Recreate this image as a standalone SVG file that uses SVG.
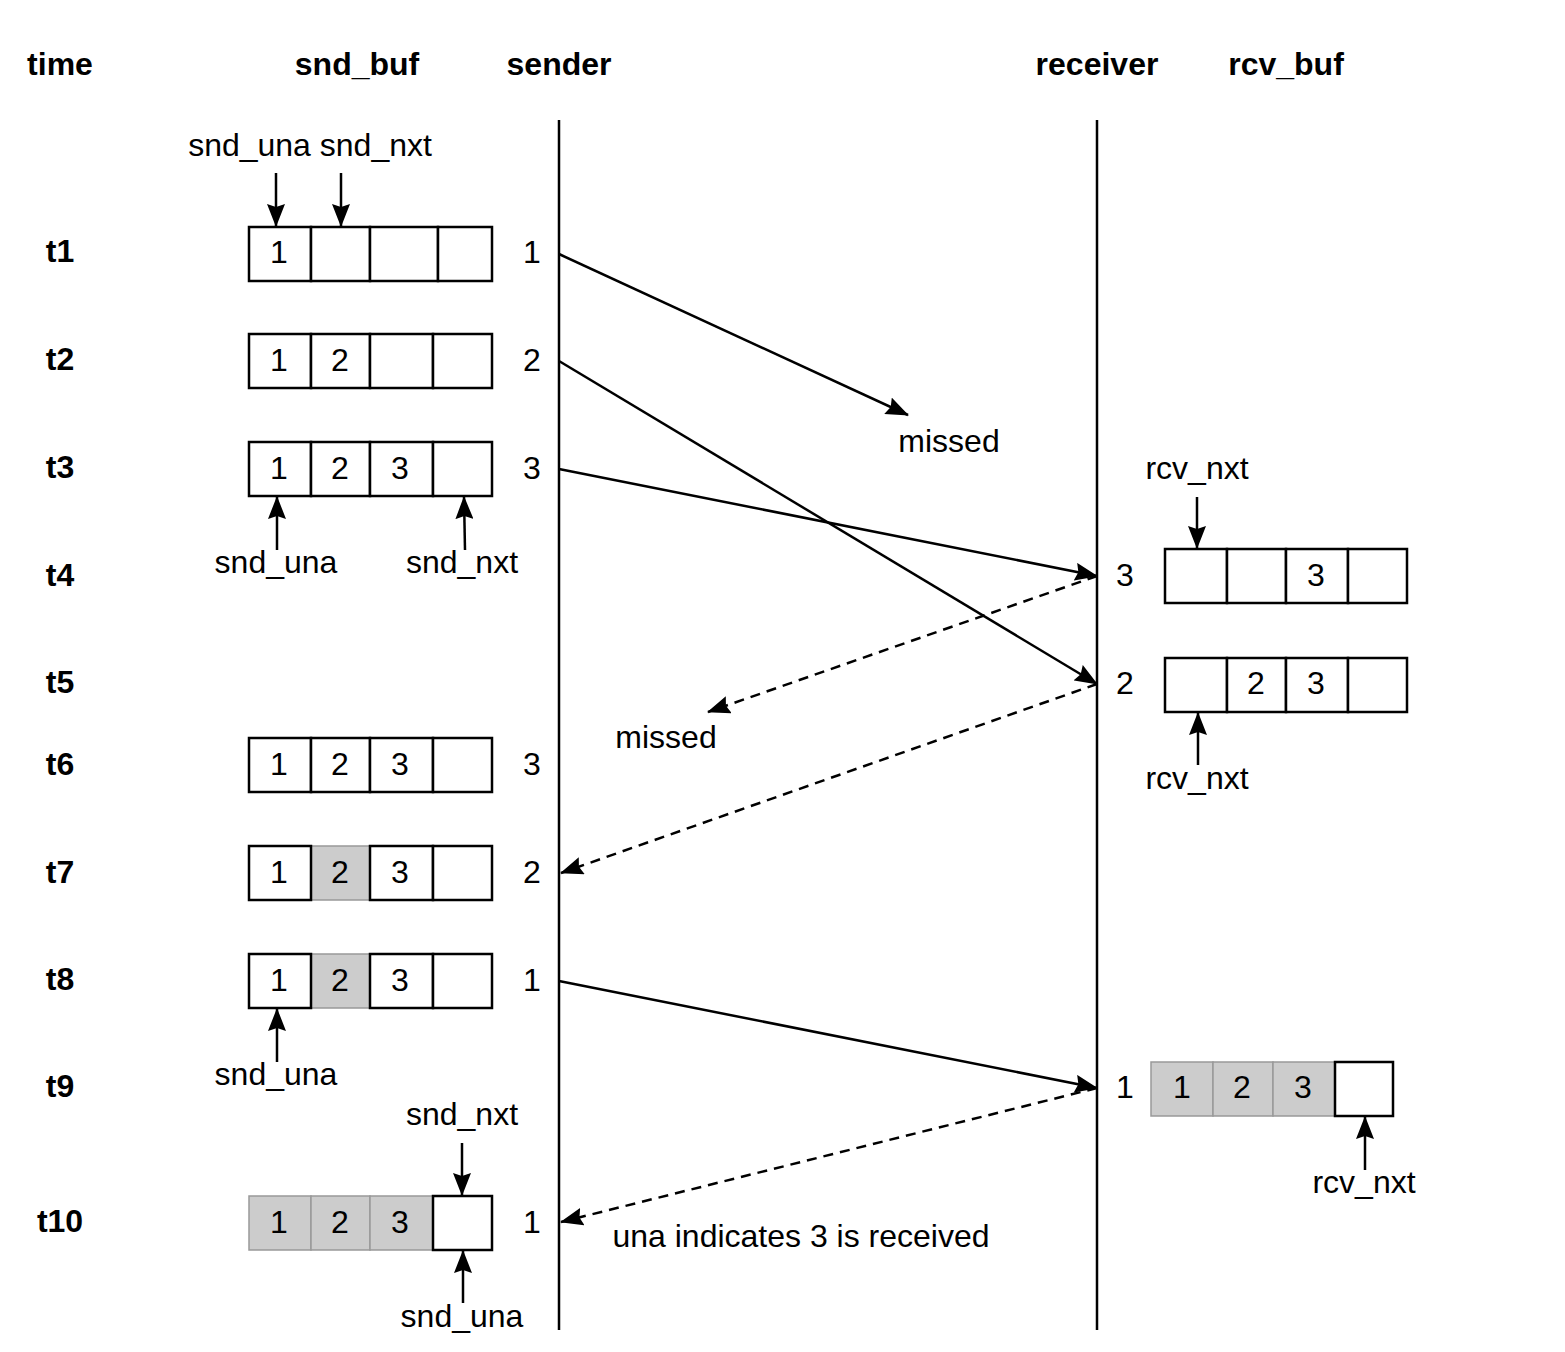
<svg xmlns="http://www.w3.org/2000/svg" width="1565" height="1352" viewBox="0 0 1565 1352">
<style>
text{font-family:"Liberation Sans",Arial,sans-serif;font-size:32px;fill:#000;text-anchor:middle}
.b{font-weight:bold}
.c{fill:#fff;stroke:#000;stroke-width:2.5}
.g{fill:#ccc;stroke:#999;stroke-width:1.5}
.ln{stroke:#000;stroke-width:2.5;fill:none}
.ds{stroke:#000;stroke-width:2.5;fill:none;stroke-dasharray:10 7}
</style>
<defs>
<marker id="ah" viewBox="0 0 23 18" markerUnits="userSpaceOnUse" markerWidth="23" markerHeight="18" refX="22" refY="9" orient="auto">
<path d="M0,0 L23,9 L0,18 L3,9 Z" fill="#000"/>
</marker>
</defs>
<rect width="1565" height="1352" fill="#fff"/>
<g id="headers">
<text class="b" x="60" y="75">time</text>
<text class="b" x="357" y="75">snd_buf</text>
<text class="b" x="559" y="75">sender</text>
<text class="b" x="1097" y="75">receiver</text>
<text class="b" x="1286" y="75">rcv_buf</text>
</g>
<g id="times">
<text class="b" x="60" y="262">t1</text>
<text class="b" x="60" y="370">t2</text>
<text class="b" x="60" y="478">t3</text>
<text class="b" x="60" y="586">t4</text>
<text class="b" x="60" y="693">t5</text>
<text class="b" x="60" y="775">t6</text>
<text class="b" x="60" y="883">t7</text>
<text class="b" x="60" y="990">t8</text>
<text class="b" x="60" y="1097">t9</text>
<text class="b" x="60" y="1232">t10</text>
</g>
<g id="lifelines">
<line class="ln" x1="559" y1="120" x2="559" y2="1330"/>
<line class="ln" x1="1097" y1="120" x2="1097" y2="1330"/>
</g>
<g id="snd_t1">
<rect class="c" x="249" y="227" width="62" height="54"/><rect class="c" x="311" y="227" width="59" height="54"/><rect class="c" x="370" y="227" width="68" height="54"/><rect class="c" x="438" y="227" width="54" height="54"/>
<text x="279" y="263">1</text><text x="532" y="263">1</text>
</g>
<g id="snd_t2">
<rect class="c" x="249" y="334" width="62" height="54"/><rect class="c" x="311" y="334" width="59" height="54"/><rect class="c" x="370" y="334" width="63" height="54"/><rect class="c" x="433" y="334" width="59" height="54"/>
<text x="279" y="371">1</text><text x="340" y="371">2</text><text x="532" y="371">2</text>
</g>
<g id="snd_t3">
<rect class="c" x="249" y="442" width="62" height="54"/><rect class="c" x="311" y="442" width="59" height="54"/><rect class="c" x="370" y="442" width="63" height="54"/><rect class="c" x="433" y="442" width="59" height="54"/>
<text x="279" y="479">1</text><text x="340" y="479">2</text><text x="400" y="479">3</text><text x="532" y="479">3</text>
</g>
<g id="snd_t6">
<rect class="c" x="249" y="738" width="62" height="54"/><rect class="c" x="311" y="738" width="59" height="54"/><rect class="c" x="370" y="738" width="63" height="54"/><rect class="c" x="433" y="738" width="59" height="54"/>
<text x="279" y="775">1</text><text x="340" y="775">2</text><text x="400" y="775">3</text><text x="532" y="775">3</text>
</g>
<g id="snd_t7">
<rect class="g" x="311" y="846" width="59" height="54"/>
<rect class="c" x="249" y="846" width="62" height="54"/><rect class="c" x="370" y="846" width="63" height="54"/><rect class="c" x="433" y="846" width="59" height="54"/>
<text x="279" y="883">1</text><text x="340" y="883">2</text><text x="400" y="883">3</text><text x="532" y="883">2</text>
</g>
<g id="snd_t8">
<rect class="g" x="311" y="954" width="59" height="54"/>
<rect class="c" x="249" y="954" width="62" height="54"/><rect class="c" x="370" y="954" width="63" height="54"/><rect class="c" x="433" y="954" width="59" height="54"/>
<text x="279" y="991">1</text><text x="340" y="991">2</text><text x="400" y="991">3</text><text x="532" y="991">1</text>
</g>
<g id="snd_t10">
<rect class="g" x="249" y="1196" width="62" height="54"/><rect class="g" x="311" y="1196" width="59" height="54"/><rect class="g" x="370" y="1196" width="63" height="54"/>
<rect class="c" x="433" y="1196" width="59" height="54"/>
<text x="279" y="1233">1</text><text x="340" y="1233">2</text><text x="400" y="1233">3</text><text x="532" y="1233">1</text>
</g>
<g id="rcv_t4">
<rect class="c" x="1165" y="549" width="62" height="54"/><rect class="c" x="1227" y="549" width="59" height="54"/><rect class="c" x="1286" y="549" width="62" height="54"/><rect class="c" x="1348" y="549" width="59" height="54"/>
<text x="1316" y="586">3</text><text x="1125" y="586">3</text>
</g>
<g id="rcv_t5">
<rect class="c" x="1165" y="658" width="62" height="54"/><rect class="c" x="1227" y="658" width="59" height="54"/><rect class="c" x="1286" y="658" width="62" height="54"/><rect class="c" x="1348" y="658" width="59" height="54"/>
<text x="1256" y="694">2</text><text x="1316" y="694">3</text><text x="1125" y="694">2</text>
</g>
<g id="rcv_t9">
<rect class="g" x="1151" y="1062" width="62" height="54"/><rect class="g" x="1213" y="1062" width="60" height="54"/><rect class="g" x="1273" y="1062" width="62" height="54"/>
<rect class="c" x="1335" y="1062" width="58" height="54"/>
<text x="1182" y="1098">1</text><text x="1242" y="1098">2</text><text x="1303" y="1098">3</text><text x="1125" y="1098">1</text>
</g>
<g id="pointers">
<text x="310" y="156">snd_una snd_nxt</text>
<line class="ln" x1="276" y1="173" x2="276" y2="226" marker-end="url(#ah)"/>
<line class="ln" x1="341" y1="173" x2="341" y2="226" marker-end="url(#ah)"/>
<line class="ln" x1="277" y1="550" x2="277" y2="497" marker-end="url(#ah)"/>
<text x="276" y="573">snd_una</text>
<line class="ln" x1="465" y1="550" x2="464" y2="497" marker-end="url(#ah)"/>
<text x="462" y="573">snd_nxt</text>
<text x="1197" y="479">rcv_nxt</text>
<line class="ln" x1="1197" y1="497" x2="1197" y2="548" marker-end="url(#ah)"/>
<line class="ln" x1="1198" y1="765" x2="1198" y2="713" marker-end="url(#ah)"/>
<text x="1197" y="789">rcv_nxt</text>
<line class="ln" x1="277" y1="1062" x2="277" y2="1009" marker-end="url(#ah)"/>
<text x="276" y="1085">snd_una</text>
<text x="462" y="1125">snd_nxt</text>
<line class="ln" x1="462" y1="1143" x2="462" y2="1195" marker-end="url(#ah)"/>
<line class="ln" x1="463" y1="1303" x2="463" y2="1251" marker-end="url(#ah)"/>
<text x="462" y="1327">snd_una</text>
<line class="ln" x1="1365" y1="1170" x2="1365" y2="1117" marker-end="url(#ah)"/>
<text x="1364" y="1193">rcv_nxt</text>
</g>
<g id="connectors">
<line class="ln" x1="559" y1="254" x2="908" y2="415" marker-end="url(#ah)"/>
<line class="ln" x1="559" y1="361" x2="1097" y2="684" marker-end="url(#ah)"/>
<line class="ln" x1="559" y1="469" x2="1097" y2="576" marker-end="url(#ah)"/>
<line class="ds" x1="1097" y1="576" x2="708" y2="712" marker-end="url(#ah)"/>
<line class="ds" x1="1097" y1="684" x2="561" y2="873" marker-end="url(#ah)"/>
<line class="ln" x1="559" y1="981" x2="1097" y2="1088" marker-end="url(#ah)"/>
<line class="ds" x1="1097" y1="1088" x2="561" y2="1222" marker-end="url(#ah)"/>
<text x="949" y="452">missed</text>
<text x="666" y="748">missed</text>
<text x="801" y="1247">una indicates 3 is received</text>
</g>
</svg>
